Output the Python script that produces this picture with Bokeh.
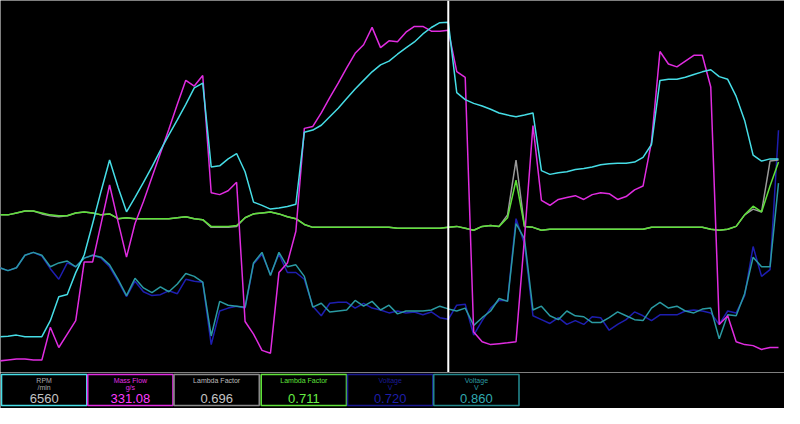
from bokeh.plotting import figure
from bokeh.models import Range1d, Span, ColumnDataSource
from bokeh.layouts import column
from bokeh.core.properties import value
from bokeh.embed import file_html
from bokeh.resources import INLINE

# ---------------- data (one value per logged sample) ----------------
sample = list(range(93))
cursor_index = 53

rpm = [670, 680, 700, 670, 670, 670, 970, 1420, 1460, 1870,
       2200, 2790, 3400, 3980, 3470, 3010, 3280, 3560, 3850, 4160,
       4450, 4730, 5020, 5330, 5420, 3850, 3870, 4000, 4100, 3760,
       3190, 3130, 3060, 3080, 3110, 3150, 4500, 4540, 4630, 4790,
       4950, 5130, 5310, 5470, 5630, 5760, 5830, 5960, 6080, 6190,
       6340, 6460, 6550, 6560, 5240, 5110, 5040, 4990, 4930, 4860,
       4820, 4790, 4820, 4860, 3780, 3710, 3740, 3760, 3800, 3820,
       3850, 3890, 3910, 3920, 3920, 3940, 4030, 4270, 5470, 5490,
       5490, 5530, 5580, 5630, 5670, 5540, 5490, 5170, 4720, 4070,
       3960, 4000, 4000]

mass_flow = [11.2, 12.1, 13.0, 13.0, 12.1, 12.1, 43.7, 24.2, 37.2, 50.2,
             107.0, 107.0, 144.2, 181.4, 146.0, 111.6, 144.2, 165.5, 188.8, 212.0,
             235.3, 259.5, 282.7, 277.1, 287.4, 173.9, 172.1, 175.8, 184.1, 49.3,
             37.2, 21.4, 18.6, 96.7, 106.0, 136.7, 236.2, 238.1, 251.1, 266.0,
             279.9, 294.8, 308.8, 317.1, 333.9, 314.3, 320.9, 319.9, 329.2, 334.8,
             334.8, 330.2, 330.2, 331.08, 291.1, 285.5, 39.1, 29.8, 27.0, 27.9,
             28.8, 29.8, 130.2, 239.0, 166.5, 161.8, 167.4, 169.3, 171.1, 167.4,
             172.1, 173.9, 173.0, 167.4, 170.2, 176.7, 180.4, 223.2, 310.6, 298.5,
             295.7, 301.3, 306.9, 306.9, 276.2, 46.5, 54.9, 29.8, 27.0, 26.0,
             22.3, 24.2, 24.2]

lambda_a = [0.722, 0.722, 0.726, 0.730, 0.730, 0.724, 0.720, 0.718, 0.720, 0.726,
            0.728, 0.726, 0.722, 0.724, 0.714, 0.716, 0.714, 0.714, 0.714, 0.714,
            0.714, 0.716, 0.718, 0.714, 0.712, 0.696, 0.696, 0.696, 0.698, 0.716,
            0.724, 0.726, 0.728, 0.724, 0.718, 0.714, 0.702, 0.696, 0.696, 0.696,
            0.696, 0.696, 0.696, 0.696, 0.696, 0.696, 0.696, 0.694, 0.694, 0.694,
            0.694, 0.694, 0.694, 0.696, 0.698, 0.694, 0.690, 0.698, 0.700, 0.698,
            0.722, 0.836, 0.698, 0.696, 0.690, 0.692, 0.692, 0.692, 0.692, 0.692,
            0.692, 0.692, 0.692, 0.692, 0.692, 0.692, 0.692, 0.696, 0.696, 0.696,
            0.696, 0.696, 0.696, 0.696, 0.692, 0.690, 0.692, 0.698, 0.722, 0.734,
            0.728, 0.834, 0.836]

lambda_b = [0.737, 0.737, 0.741, 0.745, 0.745, 0.741, 0.737, 0.735, 0.735, 0.741,
            0.743, 0.741, 0.737, 0.739, 0.729, 0.731, 0.729, 0.729, 0.729, 0.729,
            0.729, 0.731, 0.733, 0.729, 0.727, 0.713, 0.713, 0.713, 0.715, 0.731,
            0.739, 0.741, 0.743, 0.739, 0.733, 0.729, 0.717, 0.711, 0.711, 0.711,
            0.711, 0.711, 0.711, 0.711, 0.711, 0.711, 0.711, 0.709, 0.709, 0.709,
            0.709, 0.709, 0.709, 0.711, 0.713, 0.709, 0.705, 0.713, 0.715, 0.713,
            0.731, 0.809, 0.713, 0.711, 0.705, 0.707, 0.707, 0.707, 0.707, 0.707,
            0.707, 0.707, 0.707, 0.707, 0.707, 0.707, 0.707, 0.711, 0.711, 0.711,
            0.711, 0.711, 0.711, 0.711, 0.707, 0.705, 0.707, 0.713, 0.737, 0.755,
            0.743, 0.797, 0.847]

voltage_a = [1.417, 1.378, 1.417, 1.586, 1.625, 1.573, 1.404, 1.261, 1.482, 1.430,
             1.547, 1.586, 1.547, 1.430, 1.235, 1.027, 1.235, 1.092, 1.040, 1.053,
             1.105, 1.066, 1.261, 1.235, 1.222, 0.377, 0.832, 0.871, 0.897, 0.871,
             1.469, 1.599, 1.326, 1.599, 1.352, 1.352, 1.261, 0.897, 0.767, 0.936,
             0.949, 0.949, 0.871, 0.936, 0.871, 0.845, 0.806, 0.832, 0.806, 0.819,
             0.780, 0.819, 0.741, 0.720, 0.910, 0.923, 0.507, 0.702, 0.871, 0.975,
             0.975, 2.080, 1.742, 0.767, 0.715, 0.663, 0.741, 0.650, 0.702, 0.650,
             0.754, 0.741, 0.572, 0.650, 0.715, 0.819, 0.767, 0.702, 0.780, 0.780,
             0.780, 0.832, 0.845, 0.832, 0.806, 0.650, 0.832, 0.806, 1.040, 1.703,
             1.300, 1.391, 3.276]

voltage_b = [1.417, 1.378, 1.417, 1.586, 1.625, 1.586, 1.430, 1.482, 1.508, 1.430,
             1.547, 1.586, 1.560, 1.456, 1.261, 1.040, 1.274, 1.144, 1.079, 1.157,
             1.092, 1.196, 1.339, 1.300, 1.222, 0.494, 0.962, 0.910, 0.897, 0.884,
             1.482, 1.625, 1.313, 1.625, 1.430, 1.456, 1.300, 0.884, 0.936, 0.819,
             0.832, 0.845, 0.975, 0.897, 0.962, 0.845, 0.910, 0.793, 0.832, 0.832,
             0.832, 0.845, 0.897, 0.860, 0.832, 0.871, 0.637, 0.741, 0.832, 1.001,
             0.962, 2.015, 1.807, 0.845, 0.897, 0.767, 0.715, 0.832, 0.767, 0.754,
             0.676, 0.676, 0.741, 0.819, 0.767, 0.715, 0.702, 0.871, 0.949, 0.871,
             0.897, 0.832, 0.806, 0.858, 0.871, 0.455, 0.780, 0.767, 1.066, 1.560,
             1.430, 1.430, 2.561]

labels = ["RPM", "Mass Flow", "Lambda Factor", "Lambda Factor", "Voltage", "Voltage"]
units = ["/min", "g/s", "", "", "V", "V"]

# ---------------- styling ----------------
C_RPM = "#46dde6"
C_MASS = "#e02ce0"
C_LAMA = "#9a9a9a"
C_LAMB = "#5fe03a"
C_VOLA = "#1e1eb0"
C_VOLB = "#2a9aa2"

W = 784
H_CHART = 372
H_LEG = 36

p = figure(width=W, height=H_CHART, x_range=Range1d(0.1157, 92.708), y_range=Range1d(0, 1),
           output_backend="svg", toolbar_location=None,
           x_axis_location=None, y_axis_location=None, min_border=0,
           background_fill_color="black", border_fill_color="black", outline_line_color=None)
p.grid.visible = False
p.extra_y_ranges = {
    "rpm": Range1d(0, 6966),
    "mass": Range1d(0, 359.9),
    "lam_a": Range1d(0.394, 1.168),
    "lam_b": Range1d(0.409, 1.183),
    "volt": Range1d(0, 5.031),
}

src = ColumnDataSource(dict(x=sample, rpm=rpm, mass=mass_flow, lam_a=lambda_a, lam_b=lambda_b,
                            vol_a=voltage_a, vol_b=voltage_b))

lw = 1.5
p.line("x", "vol_a", source=src, y_range_name="volt", line_color=C_VOLA, line_width=lw)
p.line("x", "vol_b", source=src, y_range_name="volt", line_color=C_VOLB, line_width=lw)
p.line("x", "lam_a", source=src, y_range_name="lam_a", line_color=C_LAMA, line_width=lw)
p.line("x", "lam_b", source=src, y_range_name="lam_b", line_color=C_LAMB, line_width=lw)
p.line("x", "mass", source=src, y_range_name="mass", line_color=C_MASS, line_width=lw)
p.line("x", "rpm", source=src, y_range_name="rpm", line_color=C_RPM, line_width=lw)

p.add_layout(Span(location=sample[cursor_index], dimension="height", line_color="white", line_width=2))

# ---------------- value boxes ----------------
leg = figure(width=W, height=H_LEG, x_range=Range1d(0, W), y_range=Range1d(H_LEG, 0),
             output_backend="svg", toolbar_location=None,
             x_axis_location=None, y_axis_location=None, min_border=0,
             background_fill_color="black", border_fill_color="black", outline_line_color=None)
leg.grid.visible = False

box_colors = [C_RPM, C_MASS, "#8a8a8a", C_LAMB, "#1a1a90", "#23868c"]
label_colors = ["#a8a8a8", C_MASS, "#bdbdbd", C_LAMB, "#1a1a98", C_VOLB]
value_colors = ["#c4c4c4", "#ff3cff", "#c4c4c4", "#66ee44", "#1e1ea8", "#30a8b0"]
cur = [rpm[cursor_index], mass_flow[cursor_index], lambda_a[cursor_index],
       lambda_b[cursor_index], voltage_a[cursor_index], voltage_b[cursor_index]]
value_text = [f"{cur[0]:.0f}", f"{cur[1]:.2f}", f"{cur[2]:.3f}", f"{cur[3]:.3f}",
              f"{cur[4]:.3f}", f"{cur[5]:.3f}"]

box_left = [1.0, 87.2, 173.5, 260.7, 347.0, 433.2]
box_w = 85.3
lefts = box_left
rights = [b + box_w for b in box_left]
centers = [b + box_w / 2 for b in box_left]

leg.quad(left=lefts, right=rights, top=[2] * 6, bottom=[33] * 6,
         fill_color="black", line_color=box_colors, line_width=1.6)

leg.text(x=centers, y=[7.5] * 6, text=labels, text_color=label_colors,
         text_font=value("Liberation Sans"), text_font_size="7px",
         text_align="center", text_baseline="middle")
leg.text(x=centers, y=[14.5] * 6, text=units, text_color=label_colors,
         text_font=value("Liberation Sans"), text_font_size="7px",
         text_align="center", text_baseline="middle")
leg.text(x=centers, y=[25.5] * 6, text=value_text, text_color=value_colors,
         text_font=value("Liberation Sans"), text_font_size="13px",
         text_align="center", text_baseline="middle")

layout = column(p, leg, spacing=0)
open("out.html", "w").write(file_html(layout, INLINE))
